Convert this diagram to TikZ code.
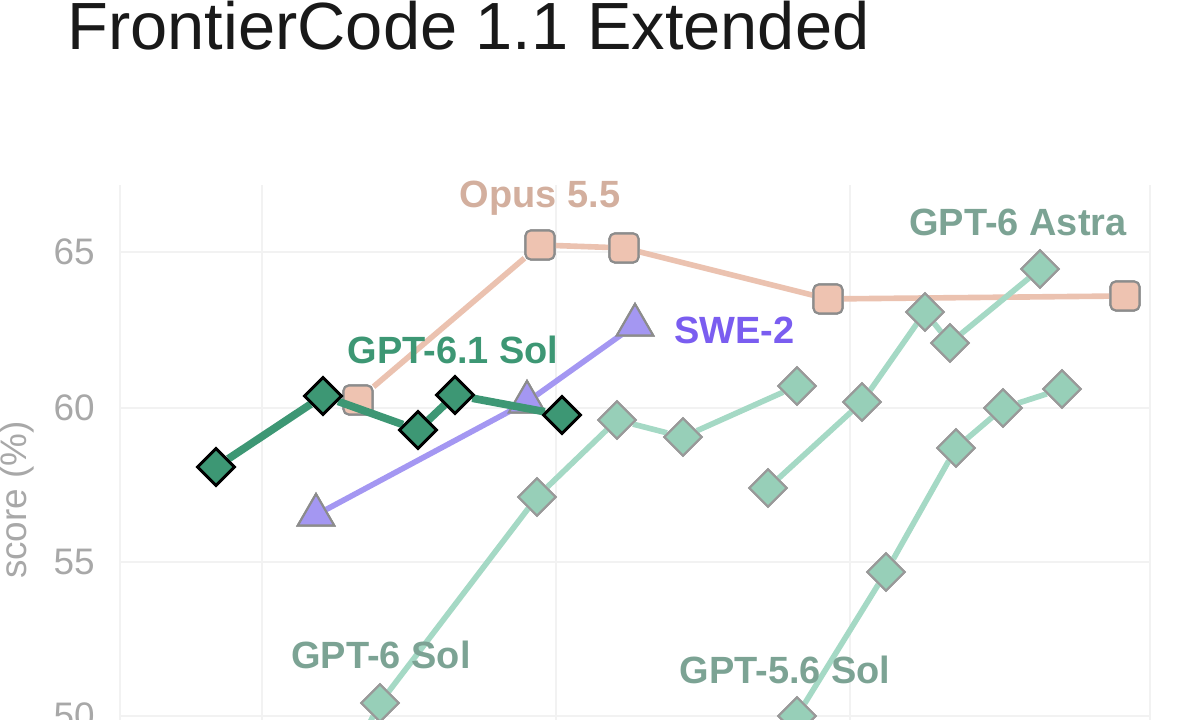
\documentclass[tikz,border=0pt]{standalone}
\usepackage{fontspec}
\setmainfont{Liberation Sans}
\usetikzlibrary{shapes.geometric}

\definecolor{opus}{HTML}{EBC2B0}
\definecolor{opusfill}{HTML}{EEC3B1}
\definecolor{sollight}{HTML}{A5D9C5}
\definecolor{solfill}{HTML}{97CFB8}
\definecolor{soldark}{HTML}{3D9774}
\definecolor{swe}{HTML}{A497F2}
\definecolor{swetext}{HTML}{7A5DF0}
\definecolor{tick}{HTML}{A8A8A8}

\tikzset{
  grid line/.style={draw=black!5, line width=0.6pt},
  sq/.style={rectangle, rounded corners=1.5pt, minimum size=0.29cm, inner sep=0pt, fill=opusfill, draw=black!45, line width=0.6pt},
  dm/.style={diamond, minimum size=0.38cm, inner sep=0pt, fill=solfill, draw=black!40, line width=0.6pt},
  dmdark/.style={dm, fill=soldark, draw=black, line width=0.8pt},
  tri/.style={regular polygon, regular polygon sides=3, minimum size=0.42cm, inner sep=0pt, fill=swe, draw=black!45, line width=0.6pt},
  lab/.style={font=\fontsize{10.8}{12}\selectfont\bfseries},
}

\begin{document}
\begin{tikzpicture}
\useasboundingbox (0,0) rectangle (12,7.2);
\clip (0,0) rectangle (12,7.2);

\node[anchor=base west, inner sep=0pt, font=\fontsize{19}{22}\selectfont, text=black!90] (title) at (0.67,6.70) {FrontierCode 1.1 Extended};

    \begin{scope} % Grid
        \draw[grid line] (1.20,4.68) -- (11.50,4.68);
        \draw[grid line] (1.20,3.12) -- (11.50,3.12);
        \draw[grid line] (1.20,1.58) -- (11.50,1.58);
        \draw[grid line] (1.20,0.04) -- (11.50,0.04);
        \draw[grid line] (1.20,5.35) -- (1.20,0);
        \draw[grid line] (2.62,5.35) -- (2.62,0);
        \draw[grid line] (5.56,5.35) -- (5.56,0);
        \draw[grid line] (8.50,5.35) -- (8.50,0);
        \draw[grid line] (11.50,5.35) -- (11.50,0);
    \end{scope}

\node[anchor=east, text=tick, font=\fontsize{10.5}{12}\selectfont] (t65) at (1.07,4.68) {65};
\node[anchor=east, text=tick, font=\fontsize{10.5}{12}\selectfont] (t60) at (1.07,3.12) {60};
\node[anchor=east, text=tick, font=\fontsize{10.5}{12}\selectfont] (t55) at (1.07,1.58) {55};
\node[anchor=east, text=tick, font=\fontsize{10.5}{12}\selectfont] (t50) at (1.07,0.04) {50};
\node[rotate=90, text=tick, font=\fontsize{10.5}{12}\selectfont] (ylab) at (0.17,2.20) {score (\%)};

    \begin{scope} % Opus 5.5
        \node[sq] (o1) at (3.58,3.20) {};
        \node[sq] (o2) at (5.40,4.75) {};
        \node[sq] (o3) at (6.24,4.72) {};
        \node[sq] (o4) at (8.28,4.21) {};
        \node[sq] (o5) at (11.25,4.24) {};
        \draw[opus, line width=1.6pt] (o1) -- (o2) -- (o3) -- (o4) -- (o5);
        \node[sq] at (o1) {}; \node[sq] at (o2) {}; \node[sq] at (o3) {};
        \node[sq] at (o4) {}; \node[sq] at (o5) {};
        \node[lab, text=opus!90!black] (lo) at (5.40,5.22) {Opus 5.5};
    \end{scope}

    \begin{scope} % GPT-6 Sol
        \coordinate (s0) at (3.66,-0.1);
        \node[dm] (s1) at (3.80,0.17) {};
        \node[dm] (s2) at (5.37,2.23) {};
        \node[dm] (s3) at (6.17,3.00) {};
        \node[dm] (s4) at (6.83,2.83) {};
        \node[dm] (s5) at (7.97,3.34) {};
        \draw[sollight, line width=1.6pt] (s0) -- (s1) -- (s2) -- (s3) -- (s4) -- (s5);
        \node[dm] at (s1) {}; \node[dm] at (s2) {}; \node[dm] at (s3) {};
        \node[dm] at (s4) {}; \node[dm] at (s5) {};
        \node[lab, text=sollight!75!black] (ls) at (3.81,0.65) {GPT-6 Sol};
    \end{scope}

    \begin{scope} % GPT-6 Astra
        \node[dm] (a1) at (7.68,2.32) {};
        \node[dm] (a2) at (8.62,3.18) {};
        \node[dm] (a3) at (9.25,4.08) {};
        \node[dm] (a4) at (9.50,3.77) {};
        \node[dm] (a5) at (10.40,4.51) {};
        \draw[sollight, line width=1.6pt] (a1) -- (a2) -- (a3) -- (a4) -- (a5);
        \node[dm] at (a1) {}; \node[dm] at (a2) {}; \node[dm] at (a3) {};
        \node[dm] at (a4) {}; \node[dm] at (a5) {};
        \node[lab, text=sollight!75!black] (la) at (10.18,4.98) {GPT-6 Astra};
    \end{scope}

    \begin{scope} % GPT-5.6 Sol
        \coordinate (f0) at (7.90,-0.1);
        \node[dm] (f1) at (7.97,0.04) {};
        \node[dm] (f2) at (8.86,1.48) {};
        \node[dm] (f3) at (9.56,2.72) {};
        \node[dm] (f4) at (10.03,3.12) {};
        \node[dm] (f5) at (10.62,3.31) {};
        \draw[sollight, line width=1.6pt] (f0) -- (f1) -- (f2) -- (f3) -- (f4) -- (f5);
        \node[dm] at (f1) {}; \node[dm] at (f2) {}; \node[dm] at (f3) {};
        \node[dm] at (f4) {}; \node[dm] at (f5) {};
        \node[lab, text=sollight!75!black] (lf) at (7.85,0.50) {GPT-5.6 Sol};
    \end{scope}

    \begin{scope} % SWE-2
        \node[tri] (w1) at (3.16,2.05) {};
        \node[tri] (w2) at (5.27,3.18) {};
        \node[tri] (w3) at (6.35,3.95) {};
        \draw[swe, line width=1.6pt] (w1.center) -- (w2.center) -- (w3.center);
        \node[tri] at (w1) {}; \node[tri] at (w2) {}; \node[tri] at (w3) {};
        \node[lab, text=swetext, anchor=west] (lw) at (6.62,3.90) {SWE-2};
    \end{scope}

    \begin{scope} % GPT-6.1 Sol
        \node[dmdark] (d1) at (2.16,2.53) {};
        \node[dmdark] (d2) at (3.23,3.24) {};
        \node[dmdark] (d3) at (4.18,2.90) {};
        \node[dmdark] (d4) at (4.55,3.25) {};
        \node[dmdark] (d5) at (5.62,3.05) {};
        \draw[soldark, line width=2.2pt] (d1) -- (d2) -- (d3) -- (d4) -- (d5);
        \node[dmdark] at (d1) {}; \node[dmdark] at (d2) {}; \node[dmdark] at (d3) {};
        \node[dmdark] at (d4) {}; \node[dmdark] at (d5) {};
        \node[lab, text=soldark] (ld) at (4.53,3.70) {GPT-6.1 Sol};
    \end{scope}

\end{tikzpicture}
\end{document}
